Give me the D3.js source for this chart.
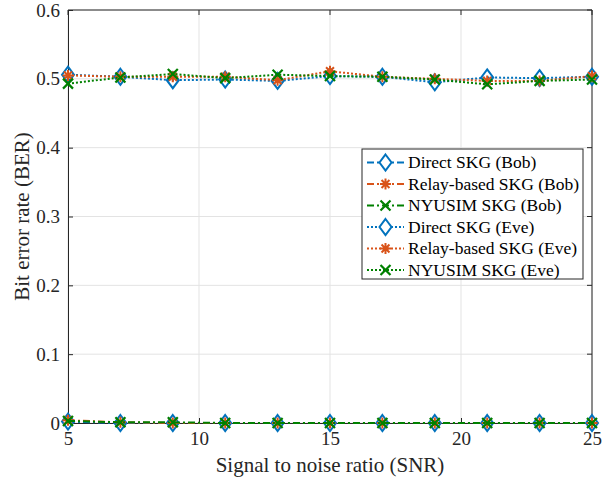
<!DOCTYPE html>
<html>
<head>
<meta charset="utf-8">
<script src="https://cdn.jsdelivr.net/npm/d3@7"></script>
<style>
  body { margin: 0; background: #fff; }
</style>
</head>
<body>
<svg></svg>
<script>
// data
const snr = [5, 7, 9, 11, 13, 15, 17, 19, 21, 23, 25]

const directBob = [0.002, 0, 0, 0, 0, 0, 0, 0, 0, 0, 0]
const relayBob = [0.004, 0.001, 0, 0, 0, 0, 0, 0, 0, 0, 0]
const nyusimBob = [0.003, 0.001, 0.001, 0, 0, 0, 0, 0, 0, 0, 0]

const directEve = [0.506, 0.503, 0.498, 0.499, 0.497, 0.504, 0.503, 0.495, 0.502, 0.501, 0.503]
const relayEve = [0.505, 0.503, 0.503, 0.503, 0.498, 0.511, 0.503, 0.500, 0.497, 0.497, 0.504]
const nyusimEve = [0.493, 0.502, 0.507, 0.501, 0.506, 0.504, 0.503, 0.499, 0.492, 0.497, 0.499]

const xTicks = [5, 10, 15, 20, 25]
const yTicks = [0, 0.1, 0.2, 0.3, 0.4, 0.5, 0.6]

const seriesNames = ['Direct SKG (Bob)', 'Relay-based SKG (Bob)', 'NYUSIM SKG (Bob)',
  'Direct SKG (Eve)', 'Relay-based SKG (Eve)', 'NYUSIM SKG (Eve)']

const blue = '#0072BD'
const orange = '#D95319'
const green = '#008000'
const FONT = "'Liberation Serif'"

const series = [
  { name: seriesNames[0], values: directBob, color: blue, marker: 'diamond', dash: '7,3,2,3' },
  { name: seriesNames[1], values: relayBob, color: orange, marker: 'star', dash: '7,3,2,3' },
  { name: seriesNames[2], values: nyusimBob, color: green, marker: 'cross', dash: '7,3,2,3' },
  { name: seriesNames[3], values: directEve, color: blue, marker: 'diamond', dash: '2,2' },
  { name: seriesNames[4], values: relayEve, color: orange, marker: 'star', dash: '2,2' },
  { name: seriesNames[5], values: nyusimEve, color: green, marker: 'cross', dash: '2,2' }
]

const w = 611
const h = 479
const margin = { top: 10, right: 19, bottom: 56, left: 68 }

const svg = d3.select('svg')
  .attr('width', w)
  .attr('height', h)

const xScale = d3.scaleLinear()
  .domain([5, 25])
  .range([margin.left, w - margin.right])

const yScale = d3.scaleLinear()
  .domain([0, 0.6])
  .range([h - margin.bottom, margin.top])

const x0 = margin.left
const x1 = w - margin.right
const y0 = h - margin.bottom
const y1 = margin.top

// grid
svg.append('g')
  .selectAll('line')
  .data(xTicks)
  .enter()
  .append('line')
  .attr('x1', d => xScale(d))
  .attr('x2', d => xScale(d))
  .attr('y1', y0)
  .attr('y2', y1)
  .attr('stroke', '#e3e3e3')
  .attr('stroke-width', 1)

svg.append('g')
  .selectAll('line')
  .data(yTicks)
  .enter()
  .append('line')
  .attr('x1', x0)
  .attr('x2', x1)
  .attr('y1', d => yScale(d))
  .attr('y2', d => yScale(d))
  .attr('stroke', '#e3e3e3')
  .attr('stroke-width', 1)

// axes (ticks inward like matlab)
const xAxis = d3.axisBottom(xScale)
  .tickValues(xTicks)
  .tickSize(-5)
  .tickPadding(9)
  .tickFormat(d3.format('d'))

const yAxis = d3.axisLeft(yScale)
  .tickValues(yTicks)
  .tickSize(-5)
  .tickPadding(8)
  .tickFormat(d => d === 0 ? '0' : d3.format('.1f')(d))

const gx = svg.append('g')
  .attr('transform', `translate(0, ${y0})`)
  .call(xAxis)
const gy = svg.append('g')
  .attr('transform', `translate(${x0}, 0)`)
  .call(yAxis)

;[gx, gy].forEach(g => {
  g.attr('font-family', null)
  g.select('.domain').attr('stroke', '#262626')
  g.selectAll('.tick line').attr('stroke', '#262626')
  g.selectAll('.tick text')
    .attr('fill', '#262626')
    .style('font-family', FONT)
    .style('font-size', '19px')
})

// top and right box lines
svg.append('line')
  .attr('x1', x0).attr('x2', x1).attr('y1', y1).attr('y2', y1)
  .attr('stroke', '#262626')
svg.append('line')
  .attr('x1', x1).attr('x2', x1).attr('y1', y1).attr('y2', y0)
  .attr('stroke', '#262626')

svg.selectAll('.top-tick')
  .data(xTicks)
  .enter()
  .append('line')
  .attr('x1', d => xScale(d)).attr('x2', d => xScale(d))
  .attr('y1', y1).attr('y2', y1 + 5)
  .attr('stroke', '#262626')
svg.selectAll('.right-tick')
  .data(yTicks)
  .enter()
  .append('line')
  .attr('x1', x1).attr('x2', x1 - 5)
  .attr('y1', d => yScale(d)).attr('y2', d => yScale(d))
  .attr('stroke', '#262626')

// axis labels
svg.append('text')
  .attr('text-anchor', 'middle')
  .attr('x', (x0 + x1) / 2)
  .attr('y', 472)
  .attr('fill', '#262626')
  .style('font-family', FONT)
  .style('font-size', '21px')
  .text('Signal to noise ratio (SNR)')

svg.append('text')
  .attr('text-anchor', 'middle')
  .attr('transform', `translate(29, ${(y0 + y1) / 2})rotate(-90)`)
  .attr('fill', '#262626')
  .style('font-family', FONT)
  .style('font-size', '21px')
  .text('Bit error rate (BER)')

// markers
const drawMarker = (g, type, color, cx, cy) => {
  if (type === 'diamond') {
    g.append('path')
      .attr('d', `M${cx},${cy - 8}L${cx + 6},${cy}L${cx},${cy + 8}L${cx - 6},${cy}Z`)
      .attr('fill', 'none')
      .attr('stroke', color)
      .attr('stroke-width', 2)
  } else if (type === 'star') {
    const r = 5.5
    let d = `M${cx - r},${cy}L${cx + r},${cy}M${cx},${cy - r}L${cx},${cy + r}`
    const q = r * 0.72
    d += `M${cx - q},${cy - q}L${cx + q},${cy + q}M${cx - q},${cy + q}L${cx + q},${cy - q}`
    g.append('path')
      .attr('d', d)
      .attr('stroke', color)
      .attr('stroke-width', 2)
  } else {
    const r = 5
    g.append('path')
      .attr('d', `M${cx - r},${cy - r}L${cx + r},${cy + r}M${cx - r},${cy + r}L${cx + r},${cy - r}`)
      .attr('stroke', color)
      .attr('stroke-width', 2.2)
  }
}

const line = d3.line()
  .x((d, i) => xScale(snr[i]))
  .y(d => yScale(d))

const plot = svg.append('g')

series.forEach(s => {
  const g = plot.append('g')
  g.append('path')
    .datum(s.values)
    .attr('d', line)
    .attr('fill', 'none')
    .attr('stroke', s.color)
    .attr('stroke-width', 2)
    .attr('stroke-dasharray', s.dash)
  s.values.forEach((v, i) => {
    drawMarker(g, s.marker, s.color, xScale(snr[i]), yScale(v))
  })
})

// legend
const lg = svg.append('g')
  .attr('transform', 'translate(362, 149)')

lg.append('rect')
  .attr('width', 221)
  .attr('height', 130)
  .attr('fill', '#fff')
  .attr('stroke', '#262626')
  .attr('stroke-width', 1)

series.forEach((s, i) => {
  const yy = 13.5 + i * 21.5
  lg.append('line')
    .attr('x1', 5).attr('x2', 42)
    .attr('y1', yy).attr('y2', yy)
    .attr('stroke', s.color)
    .attr('stroke-width', 2)
    .attr('stroke-dasharray', s.dash)
  const mg = lg.append('g')
  if (s.marker === 'diamond') {
    mg.append('path')
      .attr('d', `M23.5,${yy - 8}L29.5,${yy}L23.5,${yy + 8}L17.5,${yy}Z`)
      .attr('fill', '#fff')
      .attr('stroke', s.color)
      .attr('stroke-width', 2)
  } else {
    drawMarker(mg, s.marker, s.color, 23.5, yy)
  }
  lg.append('text')
    .attr('x', 46)
    .attr('y', yy + 5.5)
    .attr('fill', '#000')
    .style('font-family', FONT)
    .style('font-size', '17.5px')
    .text(s.name)
})
</script>
</body>
</html>
